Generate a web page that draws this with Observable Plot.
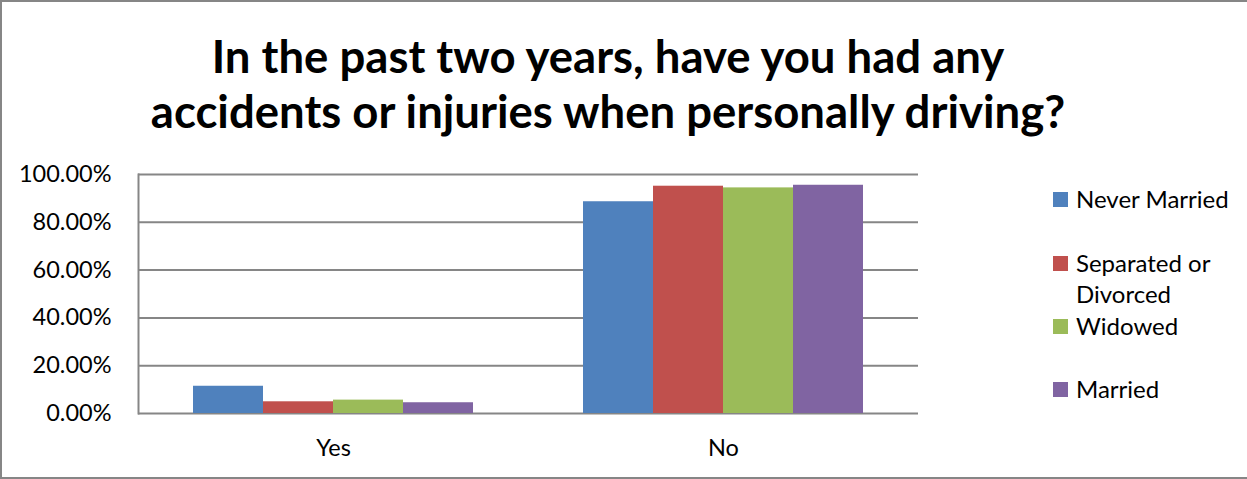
<!DOCTYPE html>
<html>
<head>
<meta charset="utf-8">
<script src="https://cdn.jsdelivr.net/npm/d3@7"></script>
<script src="https://cdn.jsdelivr.net/npm/@observablehq/plot@0.6"></script>
<style>
  html, body { margin: 0; padding: 0; background: #fff; }
  #chart {
    position: relative; width: 1247px; height: 479px; box-sizing: border-box;
    border-top: 2px solid #868686; border-left: 2px solid #868686; border-bottom: 2px solid #868686;
    font-family: Lato, "Liberation Sans", sans-serif; color: #000; overflow: hidden;
  }
  #title {
    position: absolute; left: 0; width: 1212px; top: 26px; text-align: center;
    font-weight: bold; font-size: 45.5px; line-height: 55px;
  }
  #plot { position: absolute; left: -4px; top: 145px; }
  #legend { position: absolute; left: 1051px; top: 0; font-size: 24px; }
  .item { position: absolute; left: 0; white-space: nowrap; }
  .sw { position: absolute; left: 0; width: 15px; height: 15px; }
  .lab { position: absolute; left: 23px; line-height: 31px; }
</style>
</head>
<body>
<div id="chart">
  <div id="title">In the past two years, have you had any<br>accidents or injuries when personally driving?</div>
  <div id="plot"></div>
  <div id="legend"></div>
</div>
<script>
const answers = ["Yes", "No"];
const statuses = ["Never Married", "Separated or Divorced", "Widowed", "Married"];
const colors = ["#4F81BD", "#C0504D", "#9BBB59", "#8064A2"];
const yesValues = [11.4, 4.9, 5.6, 4.5];
const noValues = [88.6, 95.1, 94.4, 95.5];
const yTicks = [0, 20, 40, 60, 80, 100];

const rows = [];
statuses.forEach((s, i) => {
  rows.push({answer: "Yes", status: s, value: yesValues[i]});
  rows.push({answer: "No", status: s, value: noValues[i]});
});

const plot = Plot.plot({
  width: 934,
  height: 322,
  marginLeft: 139,
  marginRight: 14,
  marginTop: 27,
  marginBottom: 56,
  style: {fontFamily: "Lato, 'Liberation Sans', sans-serif", fontSize: "23.5px", color: "#000", background: "transparent"},
  fx: {domain: answers, padding: 0, label: null},
  x: {domain: statuses, paddingInner: 0, paddingOuter: 0.75, axis: null},
  y: {domain: [0, 100], label: null},
  color: {domain: statuses, range: colors},
  marks: [
    Plot.ruleY(yTicks, {stroke: "#868686", strokeWidth: 2, strokeOpacity: 1}),
    Plot.barY(rows, {fx: "answer", x: "status", y: "value", fill: "status"}),
    Plot.frame({anchor: "left", facetAnchor: "left", stroke: "#868686", strokeWidth: 2, strokeOpacity: 1}),
    Plot.axisY(yTicks, {tickSize: 0, tickPadding: 27, tickFormat: d => d.toFixed(2) + "%", fontSize: 23.5, fill: "#000"}),
    Plot.axisFx({anchor: "bottom", tickSize: 0, tickPadding: 26, fontSize: 23.5, fill: "#000", label: null})
  ]
});
document.getElementById("plot").appendChild(plot);

const legendItems = [
  {name: "Never Married", lines: ["Never Married"], y: 188},
  {name: "Separated or Divorced", lines: ["Separated or", "Divorced"], y: 252},
  {name: "Widowed", lines: ["Widowed"], y: 315},
  {name: "Married", lines: ["Married"], y: 378}
];
const legend = d3.select("#legend");
legendItems.forEach((it, i) => {
  const g = legend.append("div").attr("class", "item").style("top", it.y + "px");
  g.append("div").attr("class", "sw").style("background", colors[i]).style("top", "2px");
  g.append("div").attr("class", "lab").style("top", "-7px").html(it.lines.join("<br>"));
});
</script>
</body>
</html>
